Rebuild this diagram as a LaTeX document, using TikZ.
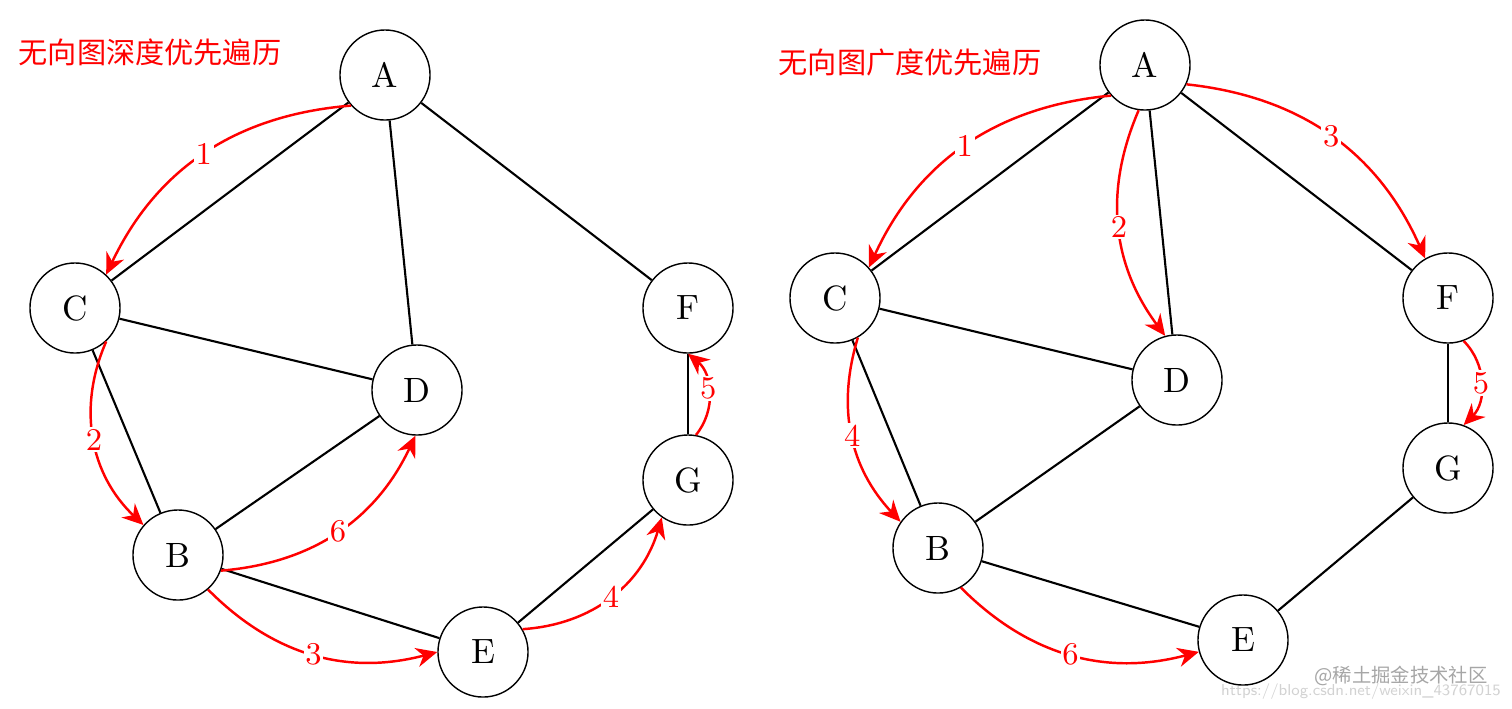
\documentclass[tikz,border=0pt]{standalone}
\usepackage{fontspec}
\newfontfamily\cjk{Noto Sans CJK SC}
\usetikzlibrary{arrows.meta}
\begin{document}
\begin{tikzpicture}[x=0.01cm,y=-0.01cm,
  vtx/.style={circle,draw,line width=0.4pt,minimum size=0.9cm,inner sep=0pt,font=\fontsize{10}{10}\selectfont},
  edge/.style={line width=0.6pt},
  trav/.style={red,line width=0.7pt,-{Stealth[length=6pt,width=5.5pt]}},
  lab/.style={fill=white,inner sep=0.5pt,text=red,font=\fontsize{9}{9}\selectfont}]
\useasboundingbox (0,0) rectangle (1512,708);
\node[text=red,font=\cjk\fontsize{8.3}{9}\selectfont] (t1) at (150,52) {无向图深度优先遍历};
\node[text=red,font=\cjk\fontsize{8.3}{9}\selectfont] (t2) at (910,62) {无向图广度优先遍历};
% left
\node[vtx] (A) at (385,75) {A};
\node[vtx] (C) at (75,308) {C};
\node[vtx] (D) at (417,390) {D};
\node[vtx] (F) at (688,308) {F};
\node[vtx] (G) at (688,480) {G};
\node[vtx] (B) at (178,555) {B};
\node[vtx] (E) at (483,652) {E};
\foreach \a/\b in {A/C,A/D,A/F,C/D,C/B,B/D,B/E,E/G,G/F} \draw[edge] (\a)--(\b);
\draw[trav] (A.222) to[bend right=30] node[lab]{1} (C.47);
\draw[trav] (C.313) to[bend right=35] node[lab]{2} (B.139);
\draw[trav] (B.-20) to[bend right=30] node[lab]{6} (D.268);
\draw[trav] (B.-49) to[bend right=30] node[lab]{3} (E.180);
\draw[trav] (E.30) to[bend right=35] node[lab]{4} (G.235);
\draw[trav] (G.80) to[bend right=45] node[lab,pos=0.55]{5} (F.270);
% right
\node[vtx] (A2) at (1145,65) {A};
\node[vtx] (C2) at (835,298) {C};
\node[vtx] (D2) at (1177,380) {D};
\node[vtx] (F2) at (1448,298) {F};
\node[vtx] (G2) at (1448,468) {G};
\node[vtx] (B2) at (938,548) {B};
\node[vtx] (E2) at (1243,640) {E};
\foreach \a/\b in {A2/C2,A2/D2,A2/F2,C2/D2,C2/B2,B2/D2,B2/E2,E2/G2,G2/F2} \draw[edge] (\a)--(\b);
\draw[trav] (A2.222) to[bend right=30] node[lab]{1} (C2.42);
\draw[trav] (A2.262) to[bend right=30] node[lab]{2} (D2.105);
\draw[trav] (A2.-25) to[bend left=30] node[lab]{3} (F2.120);
\draw[trav] (C2.300) to[bend right=30] node[lab]{4} (B2.145);
\draw[trav] (F2.290) to[bend left=45] node[lab,pos=0.5]{5} (G2.70);
\draw[trav] (B2.-60) to[bend right=30] node[lab]{6} (E2.195);
\node[text=gray!70,font=\cjk\fontsize{5.5}{6}\selectfont,anchor=east] (wm) at (1500,676) {@稀土掘金技术社区};
\node[text=gray!35,font=\sffamily\fontsize{4.5}{5}\selectfont,anchor=east,inner sep=1pt] (url) at (1505,692) {https://blog.csdn.net/weixin\_43767015};
\end{tikzpicture}
\end{document}
